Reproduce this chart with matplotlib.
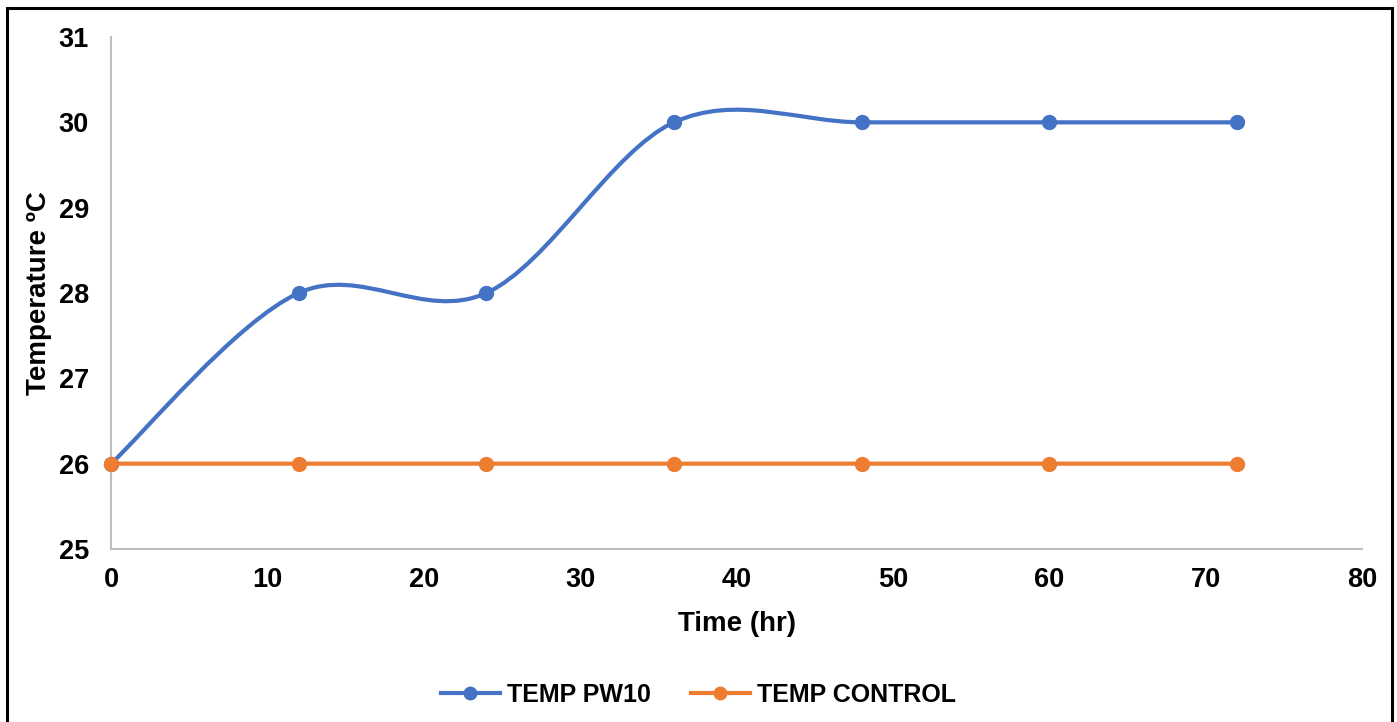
import numpy as np
import matplotlib
matplotlib.use("Agg")
import matplotlib.pyplot as plt
from matplotlib.path import Path
from matplotlib.patches import PathPatch, Rectangle
from matplotlib.lines import Line2D

time_hr = [0, 12, 24, 36, 48, 60, 72]
temp_pw10 = [26, 28, 28, 30, 30, 30, 30]
temp_control = [26, 26, 26, 26, 26, 26, 26]
series_names = ["TEMP PW10", "TEMP CONTROL"]
x_ticks = [0, 10, 20, 30, 40, 50, 60, 70, 80]
y_ticks = [25, 26, 27, 28, 29, 30, 31]

BLUE = "#4472C4"
ORANGE = "#ED7D31"

plt.rcParams["font.family"] = ["Liberation Sans", "DejaVu Sans"]
plt.rcParams["font.weight"] = "bold"

fig = plt.figure(figsize=(13.97, 7.22), dpi=100)
W, H = 1397, 722
ax = fig.add_axes([111 / W, 1 - 549 / H, (1362 - 111) / W, (549 - 37) / H])


def smooth_path(xs, ys):
    pts = np.column_stack([xs, ys]).astype(float)
    n = len(pts)
    verts = [pts[0]]
    codes = [Path.MOVETO]
    for i in range(n - 1):
        p0 = pts[i - 1] if i > 0 else pts[i]
        p1 = pts[i]
        p2 = pts[i + 1]
        p3 = pts[i + 2] if i + 2 < n else pts[i + 1]
        c1 = p1 + (p2 - p0) / 6.0
        c2 = p2 - (p3 - p1) / 6.0
        verts += [c1, c2, p2]
        codes += [Path.CURVE4] * 3
    return Path(verts, codes)


for ys, col in [(temp_pw10, BLUE), (temp_control, ORANGE)]:
    patch = PathPatch(smooth_path(time_hr, ys), facecolor="none", edgecolor=col,
                      lw=3, capstyle="round", joinstyle="round", zorder=3,
                      clip_on=False)
    ax.add_patch(patch)
    ax.plot(time_hr, ys, ls="none", marker="o", ms=10, color=col, zorder=4,
            clip_on=False)

ax.set_xlim(0, 80)
ax.set_ylim(25, 31)
ax.set_xticks(x_ticks)
ax.set_yticks(y_ticks)
for s in ["top", "right"]:
    ax.spines[s].set_visible(False)
for s in ["left", "bottom"]:
    ax.spines[s].set_color("#BFBFBF")
    ax.spines[s].set_linewidth(1.5)
ax.tick_params(length=0, labelsize=19.5)
for lbl in ax.get_xticklabels() + ax.get_yticklabels():
    lbl.set_fontweight("bold")
ax.tick_params(axis="y", pad=16)
ax.tick_params(axis="x", pad=13)

ax.set_xlabel("Time (hr)", fontsize=20, fontweight="bold", labelpad=13)
ax.set_ylabel("Temperature \u00baC", fontsize=20, fontweight="bold", labelpad=5)

handles = [Line2D([], [], color=BLUE, lw=3, marker="o", ms=9),
           Line2D([], [], color=ORANGE, lw=3, marker="o", ms=9)]
fig.legend(handles, series_names, loc="center", bbox_to_anchor=(0.5, 1 - 695 / H),
           ncol=2, frameon=False, prop={"size": 18, "weight": "bold"},
           handlelength=2.35, columnspacing=1.6, handletextpad=0.3)

fig.patches.append(Rectangle((7 / W, -0.05), (1392 - 7) / W, 1 - 8 / H + 0.05,
                             transform=fig.transFigure, fill=False,
                             edgecolor="black", lw=2.2, zorder=10))

fig.savefig("out.png", dpi=100)
